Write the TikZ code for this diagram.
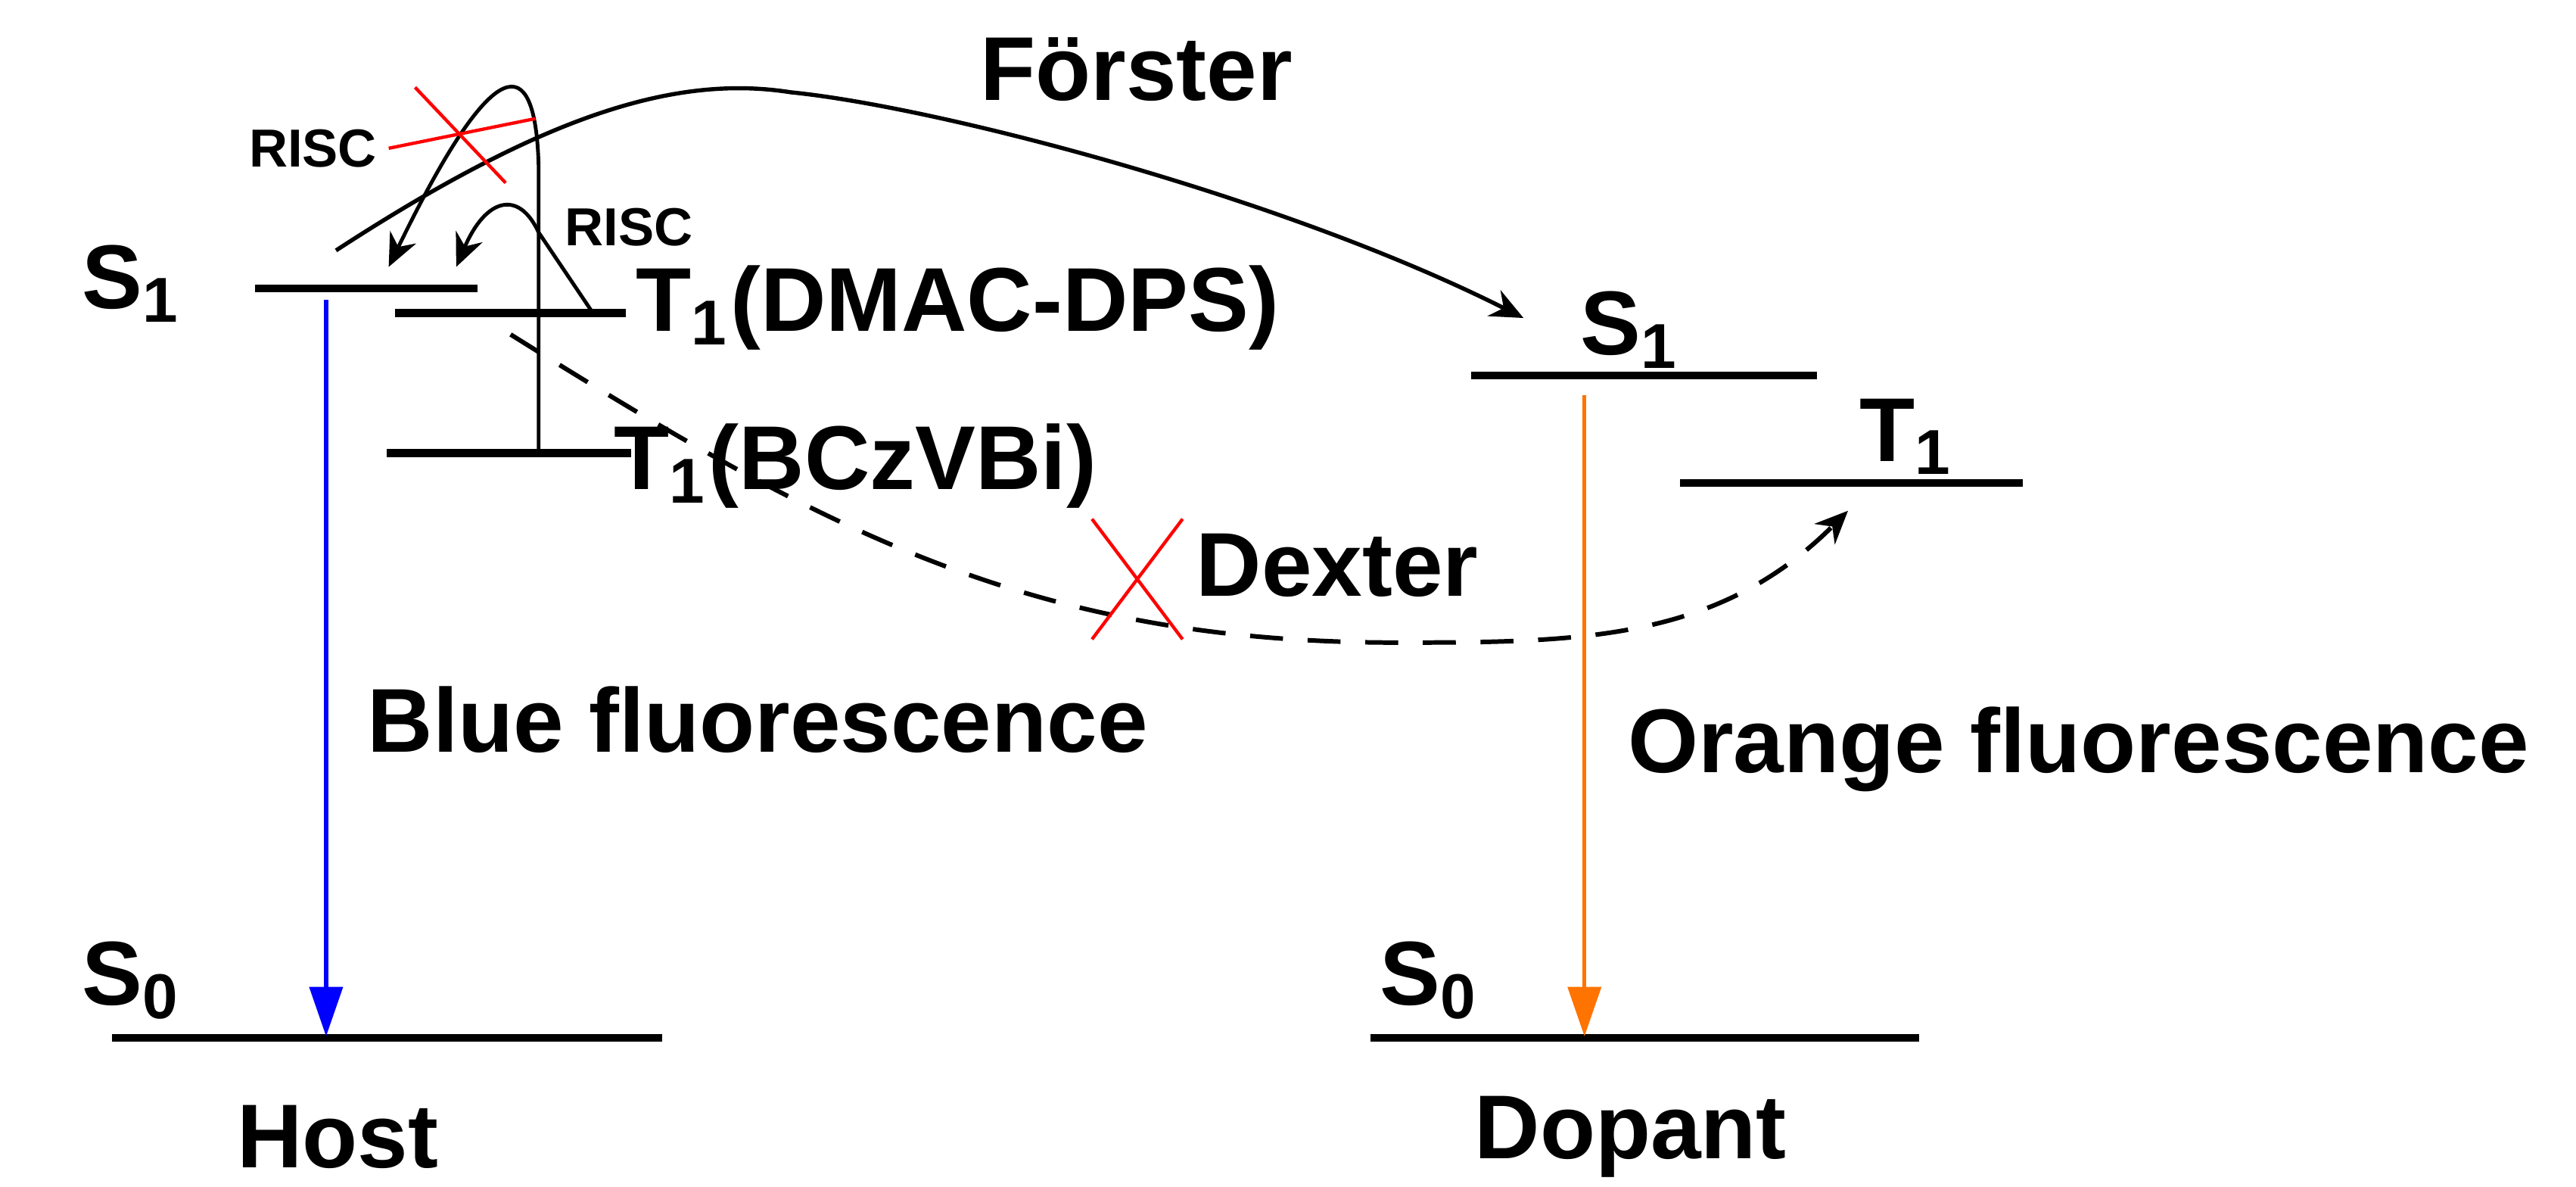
\documentclass[tikz,border=0pt]{standalone}
\usepackage{fontspec}
\setmainfont{Liberation Sans}
\usetikzlibrary{arrows.meta}
\begin{document}
\begin{tikzpicture}[x=0.2pt,y=-0.2pt,
  lvl/.style={line width=0.95pt},
  thin/.style={line width=0.45pt},
  lbl/.style={font=\bfseries\fontsize{11}{12}\selectfont,inner sep=0pt},
  small/.style={font=\bfseries\fontsize{6.5}{7}\selectfont,inner sep=0pt},
  tip/.style={-{Stealth[length=4pt,width=3.5pt]}},
  bigtip/.style={-{Triangle[length=6pt,width=4pt]}},
  cross/.style={red,line width=0.4pt}]
\useasboundingbox (0,0) rectangle (1564,720);
% levels
\coordinate (hS1a) at (155,175); \coordinate (hS1b) at (290,175);
\coordinate (hTDa) at (240,190); \coordinate (hTDb) at (380,190);
\coordinate (hTBa) at (235,275); \coordinate (hTBb) at (383,275);
\coordinate (hS0a) at (68,630);  \coordinate (hS0b) at (402,630);
\coordinate (dS1a) at (893,228); \coordinate (dS1b) at (1103,228);
\coordinate (dT1a) at (1020,293); \coordinate (dT1b) at (1228,293);
\coordinate (dS0a) at (832,630); \coordinate (dS0b) at (1165,630);
\draw[lvl] (hS1a)--(hS1b); \draw[lvl] (hTDa)--(hTDb); \draw[lvl] (hTBa)--(hTBb);
\draw[lvl] (hS0a)--(hS0b); \draw[lvl] (dS1a)--(dS1b); \draw[lvl] (dT1a)--(dT1b);
\draw[lvl] (dS0a)--(dS0b);
% labels
\node[lbl] (lS1h) at (80,172) {S\textsubscript{1}};
\node[lbl] (lS0h) at (80,595) {S\textsubscript{0}};
\node[lbl] (lhost) at (205,690) {Host};
\node[lbl] (ldop) at (990,690) {Dopant};
\node[lbl] (lS0d) at (868,595) {S\textsubscript{0}};
\node[lbl] (lS1d) at (990,200) {S\textsubscript{1}};
\node[lbl] (lT1d) at (1158,265) {T\textsubscript{1}};
\node[lbl,anchor=west] (lTD) at (385,187) {T\textsubscript{1}(DMAC-DPS)};
\node[lbl,anchor=west] (lTB) at (372,283) {T\textsubscript{1}(BCzVBi)};
\node[lbl] (lF) at (690,42) {Förster};
\node[lbl] (lD) at (812,343) {Dexter};
\node[lbl] (lB) at (460,437) {Blue fluorescence};
\node[lbl] (lO) at (1262,455) {Orange fluorescence};
\node[small] (r1) at (190,90) {RISC};
\node[small] (r2) at (382,138) {RISC};
% emission
\coordinate (bt) at (198,182); \coordinate (bb) at (198,629);
\coordinate (ot) at (962,240); \coordinate (ob) at (962,629);
\draw[blue,line width=0.5pt,bigtip] (bt)--(bb);
\draw[orange!90!red,line width=0.5pt,bigtip] (ot)--(ob);
% RISC paths
\coordinate (v0) at (327,275); \coordinate (v1) at (327,100); \coordinate (a1) at (236,162);
\draw[thin,tip] (v0)--(v1) .. controls (325,30) and (300,30) .. (a1);
\coordinate (w0) at (360,190); \coordinate (w1) at (327,141); \coordinate (a2) at (277,162);
\draw[thin,tip] (w0)--(w1) .. controls (315,115) and (295,120) .. (a2);
% Forster
\coordinate (f0) at (204,152); \coordinate (fp) at (480,56); \coordinate (f1) at (925,193);
\draw[thin,tip,line width=0.5pt] (f0) .. controls (330,70) and (410,45) .. (fp) .. controls (570,65) and (780,120) .. (f1);
% Dexter
\coordinate (d0) at (310,203); \coordinate (dl) at (848,390); \coordinate (d1) at (1122,310);
\draw[thin,tip,line width=0.55pt,dash pattern=on 4pt off 3pt] (d0) to[out=-32,in=180] (dl) to[out=0,in=-135] (d1);
% red crosses
\draw[cross] (252,53)--(307,111); \draw[cross] (236,90)--(325,72);
\draw[cross] (663,315)--(718,388); \draw[cross] (718,315)--(663,388);
\end{tikzpicture}
\end{document}
